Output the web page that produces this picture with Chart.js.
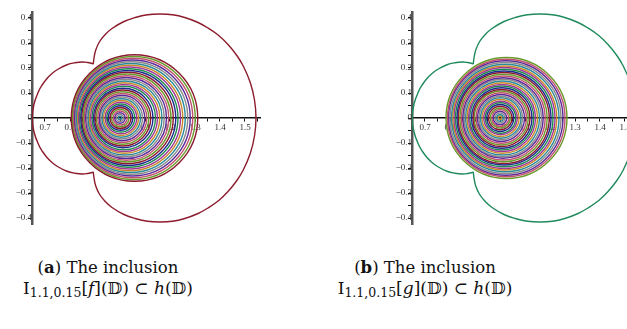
<!DOCTYPE html>
<html>
<head>
<meta charset="utf-8">
<script src="https://cdn.jsdelivr.net/npm/chart.js@4/dist/chart.umd.min.js"></script>
<style>
  body { margin: 0; background: #fff; width: 627px; height: 329px; overflow: hidden; position: relative; }
  canvas { position: absolute; top: 0; }
  #chartA { left: 0; }
  #chartB { left: 380px; }
  .cap { position: absolute; top: 257px; width: 240px; text-align: center;
         font-family: "DejaVu Serif", "Liberation Serif", serif; font-size: 16.5px; line-height: 21px; color: #111; }
  .cap .l2 { font-size: 17px; }
  .cap sub { font-size: 12.5px; vertical-align: -3px; }
</style>
</head>
<body>
<canvas id="chartA" width="270" height="232"></canvas>
<canvas id="chartB" width="270" height="232"></canvas>
<div class="cap" style="left:-12px">
  <div>(<b>a</b>) The inclusion</div>
  <div class="l2">I<sub>1.1,0.15</sub>[<i>f</i>](𝔻) ⊂ <i>h</i>(𝔻)</div>
</div>
<div class="cap" style="left:305px">
  <div>(<b>b</b>) The inclusion</div>
  <div class="l2">I<sub>1.1,0.15</sub>[<i>g</i>](𝔻) ⊂ <i>h</i>(𝔻)</div>
</div>
<script>
// tick values and labels
const xMajor = [0.7, 0.8, 0.9, 1.0, 1.1, 1.2, 1.3, 1.4, 1.5];
const xTickLabels = ['0.7', '0.8', '0.9', '1.0', '1.1', '1.2', '1.3', '1.4', '1.5'];
const xMinor = [0.75, 0.85, 0.95, 1.05, 1.15, 1.25, 1.35, 1.45, 1.55];
const yMajor = [-0.4, -0.3, -0.2, -0.1, 0, 0.1, 0.2, 0.3, 0.4];
const yTickLabels = ['\u22120.4', '\u22120.3', '\u22120.2', '\u22120.1', '0', '0.1', '0.2', '0.3', '0.4'];
const yMinor = [-0.35, -0.25, -0.15, -0.05, 0.05, 0.15, 0.25, 0.35];

// boundary h(D): big lobe (upper cusp -> right -> lower cusp)
const bigLobeX = [0.893, 0.896, 0.903, 0.918, 0.940, 0.968, 1.016, 1.061, 1.110, 1.160, 1.210, 1.259, 1.310,
  1.352, 1.395, 1.432, 1.466, 1.493, 1.521, 1.538, 1.544,
  1.538, 1.521, 1.493, 1.466, 1.432, 1.395, 1.352,
  1.310, 1.259, 1.210, 1.160, 1.110, 1.061, 1.016, 0.968, 0.940, 0.918, 0.903, 0.896, 0.893];
const bigLobeY = [0.215, 0.240, 0.272, 0.305, 0.333, 0.358, 0.386, 0.402, 0.413, 0.416, 0.413, 0.402, 0.383,
  0.360, 0.330, 0.294, 0.252, 0.208, 0.142, 0.072, 0,
  -0.072, -0.142, -0.208, -0.252, -0.294, -0.330, -0.360,
  -0.383, -0.402, -0.413, -0.416, -0.413, -0.402, -0.386, -0.358, -0.333, -0.305, -0.272, -0.240, -0.215];
// small lobe (upper cusp -> left -> lower cusp)
const smallLobeX = [0.893, 0.870, 0.850, 0.820, 0.788, 0.750, 0.726, 0.708, 0.690, 0.675, 0.656, 0.649,
  0.656, 0.675, 0.690, 0.708, 0.726, 0.750, 0.788, 0.820, 0.850, 0.870, 0.893];
const smallLobeY = [0.217, 0.222, 0.224, 0.221, 0.213, 0.194, 0.176, 0.158, 0.134, 0.108, 0.056, 0,
  -0.056, -0.108, -0.134, -0.158, -0.176, -0.194, -0.213, -0.221, -0.224, -0.222, -0.217];

// image rings, panel (a): centre on the real axis and radius
const ringCenterA = [1.000, 1.000, 1.000, 1.001, 1.001, 1.002, 1.002, 1.003, 1.004, 1.004, 1.005, 1.006,
  1.008, 1.009, 1.010, 1.011, 1.013, 1.015, 1.016, 1.018, 1.020, 1.022, 1.024, 1.026,
  1.028, 1.030, 1.033, 1.035, 1.038, 1.040, 1.043, 1.046, 1.049, 1.052, 1.055, 1.058];
const ringRadiusA = [0.007, 0.014, 0.021, 0.028, 0.035, 0.042, 0.049, 0.056, 0.063, 0.070, 0.077, 0.084,
  0.091, 0.098, 0.105, 0.112, 0.119, 0.127, 0.134, 0.141, 0.148, 0.155, 0.162, 0.169,
  0.176, 0.183, 0.190, 0.197, 0.204, 0.211, 0.218, 0.225, 0.232, 0.239, 0.246, 0.253];
// image rings, panel (b)
const ringCenterB = [1.000, 1.000, 1.000, 1.000, 1.001, 1.001, 1.001, 1.001, 1.002, 1.002, 1.002, 1.003,
  1.003, 1.004, 1.005, 1.005, 1.006, 1.007, 1.007, 1.008, 1.009, 1.010, 1.011, 1.012,
  1.013, 1.014, 1.015, 1.016, 1.017, 1.018, 1.019, 1.021, 1.022, 1.023, 1.025, 1.026];
const ringRadiusB = [0.007, 0.013, 0.020, 0.027, 0.034, 0.040, 0.047, 0.054, 0.061, 0.067, 0.074, 0.081,
  0.087, 0.094, 0.101, 0.108, 0.114, 0.121, 0.128, 0.134, 0.141, 0.148, 0.155, 0.161,
  0.168, 0.175, 0.182, 0.188, 0.195, 0.202, 0.208, 0.215, 0.222, 0.229, 0.235, 0.242];

const X_MIN = 0.648, X_MAX = 1.56, Y_MIN = -0.424, Y_MAX = 0.424;
// maple-like cycle of colours
const palette = ['#8b1a2e', '#1f2a8f', '#1e8a4e', '#a0359a', '#c8882a', '#2a8a9a', '#8a8a8a', '#5a2a9a', '#c05070', '#6a9a2a'];

function toPoints(xs, ys) {
  return xs.map((x, i) => ({ x: x, y: ys[i] }));
}

function makeChart(id, centers, radii, outerColor, colorOffset) {
  const rings = centers.map((c, i) => ({ x: c, y: 0, rad: radii[i] }));
  const tickOpts = (major, labels, minor) => ({
    afterBuildTicks: (scale) => {
      scale.ticks = major.concat(minor).sort((a, b) => a - b).map(v => ({ value: v }));
    },
    ticks: {
      autoSkip: false,
      maxRotation: 0,
      padding: 1,
      color: '#333',
      font: { family: 'Liberation Serif', size: 9 },
      callback: (v) => {
        const k = major.findIndex(m => Math.abs(m - v) < 1e-6);
        return k >= 0 ? labels[k] : '';
      }
    }
  });

  const xAxis = tickOpts(xMajor, xTickLabels, xMinor);
  const yAxis = tickOpts(yMajor, yTickLabels, yMinor);

  return new Chart(document.getElementById(id), {
    type: 'scatter',
    data: {
      datasets: [
        {
          data: rings,
          pointStyle: 'circle',
          backgroundColor: 'rgba(0,0,0,0)',
          borderColor: (ctx) => palette[(ctx.dataIndex + colorOffset) % palette.length],
          pointBorderWidth: 1.4,
          // ring radius given in data units, turned into pixels with the x scale
          pointRadius: (ctx) => {
            const s = ctx.chart.scales.x;
            const d = ctx.raw;
            if (!s || !d) return 0;
            return Math.abs(s.getPixelForValue(d.x + d.rad) - s.getPixelForValue(d.x));
          },
          order: 2
        },
        {
          data: toPoints(bigLobeX, bigLobeY),
          showLine: true, pointRadius: 0, borderColor: outerColor, borderWidth: 1.4, tension: 0.4, order: 1
        },
        {
          data: toPoints(smallLobeX, smallLobeY),
          showLine: true, pointRadius: 0, borderColor: outerColor, borderWidth: 1.4, tension: 0.4, order: 1
        }
      ]
    },
    options: {
      responsive: false,
      animation: false,
      events: [],
      layout: { padding: { left: 32, right: 10, top: 12, bottom: 8 } },
      plugins: { legend: { display: false }, tooltip: { enabled: false } },
      scales: {
        x: Object.assign({
          type: 'linear', min: X_MIN, max: X_MAX, position: { y: 0 },
          grid: { drawOnChartArea: false, drawTicks: true, tickLength: 3, tickColor: '#111' },
          border: { color: '#111', width: 1.5 }
        }, xAxis),
        y: Object.assign({
          type: 'linear', min: Y_MIN, max: Y_MAX, position: { x: X_MIN },
          grid: { drawOnChartArea: false, drawTicks: true, tickLength: 3, tickColor: '#111' },
          border: { color: '#555', width: 2.5 }
        }, yAxis)
      }
    }
  });
}

makeChart('chartA', ringCenterA, ringRadiusA, '#8c1c2c', 5);
makeChart('chartB', ringCenterB, ringRadiusB, '#1f8a5c', 4);
</script>
</body>
</html>
